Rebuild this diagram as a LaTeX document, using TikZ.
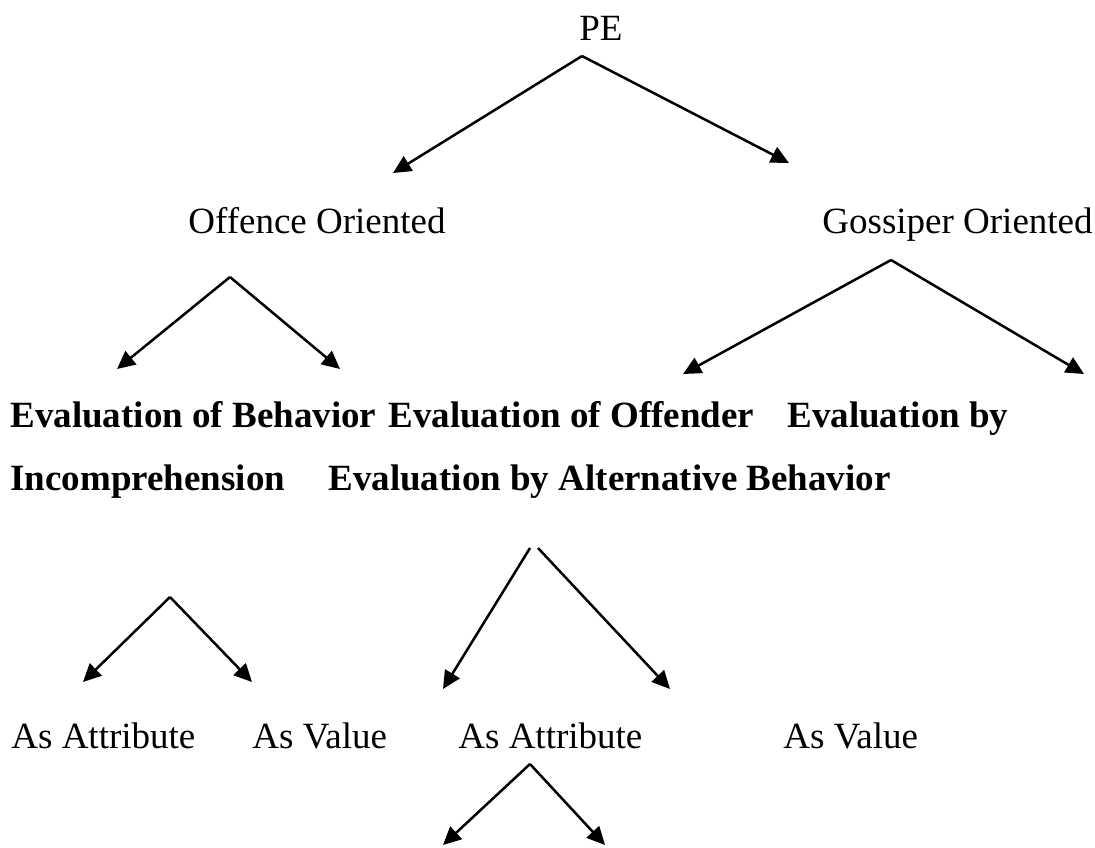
\documentclass[tikz,border=0pt]{standalone}
\usepackage{fontspec}
\setmainfont{Liberation Serif}
\usetikzlibrary{arrows.meta}
\tikzset{arr/.style={line width=1.25pt, -{Triangle[length=9pt,width=8.5pt]}},
  lbl/.style={inner sep=0pt, anchor=base west, font=\fontsize{18.5}{22}\selectfont},
  blbl/.style={lbl, font=\fontsize{18.5}{22}\selectfont\bfseries}}

\begin{document}
\begin{tikzpicture}[x=0.5pt,y=-0.5pt]
  \useasboundingbox (0,0) rectangle (1095,847);
  \node[lbl] (pe) at (579,40) {PE};
  \node[lbl] (offence) at (188,233) {Offence Oriented};
  \node[lbl] (gossiper) at (822,233) {Gossiper Oriented};
  % bold rows
  \node[blbl] (evbeh) at (10,427) {Evaluation of Behavior};
  \node[blbl] (evoff) at (388,427) {Evaluation of Offender};
  \node[blbl] (evby) at (787,427) {Evaluation by};
  \node[blbl] (incomp) at (10,490) {Incomprehension};
  \node[blbl] (evalt) at (328,490) {Evaluation by Alternative Behavior};
  % attribute / value row
  \node[lbl] (attr1) at (11,748) {As Attribute};
  \node[lbl] (val1) at (252,748) {As Value};
  \node[lbl] (attr2) at (458,748) {As Attribute};
  \node[lbl] (val2) at (783,748) {As Value};
  % branch points and arrow ends
  \coordinate (pe-s) at (582,56);   \coordinate (pe-l) at (393,173);  \coordinate (pe-r) at (789,163);
  \coordinate (off-s) at (230,277); \coordinate (off-l) at (117,369); \coordinate (off-r) at (340,369);
  \coordinate (gos-s) at (891,260); \coordinate (gos-l) at (683,374); \coordinate (gos-r) at (1084,374);
  \coordinate (inc-s) at (170,597); \coordinate (inc-l) at (83,682);  \coordinate (inc-r) at (252,682);
  \coordinate (alt-sl) at (530,548); \coordinate (alt-l) at (443,689);
  \coordinate (alt-sr) at (538,548); \coordinate (alt-r) at (670,689);
  \coordinate (att-s) at (530,764); \coordinate (att-l) at (443,845); \coordinate (att-r) at (605,845);
  \foreach \a/\b in {pe-s/pe-l,pe-s/pe-r,off-s/off-l,off-s/off-r,gos-s/gos-l,gos-s/gos-r,
    inc-s/inc-l,inc-s/inc-r,alt-sl/alt-l,alt-sr/alt-r,att-s/att-l,att-s/att-r}
    \draw[arr] (\a) -- (\b);
\end{tikzpicture}
\end{document}
